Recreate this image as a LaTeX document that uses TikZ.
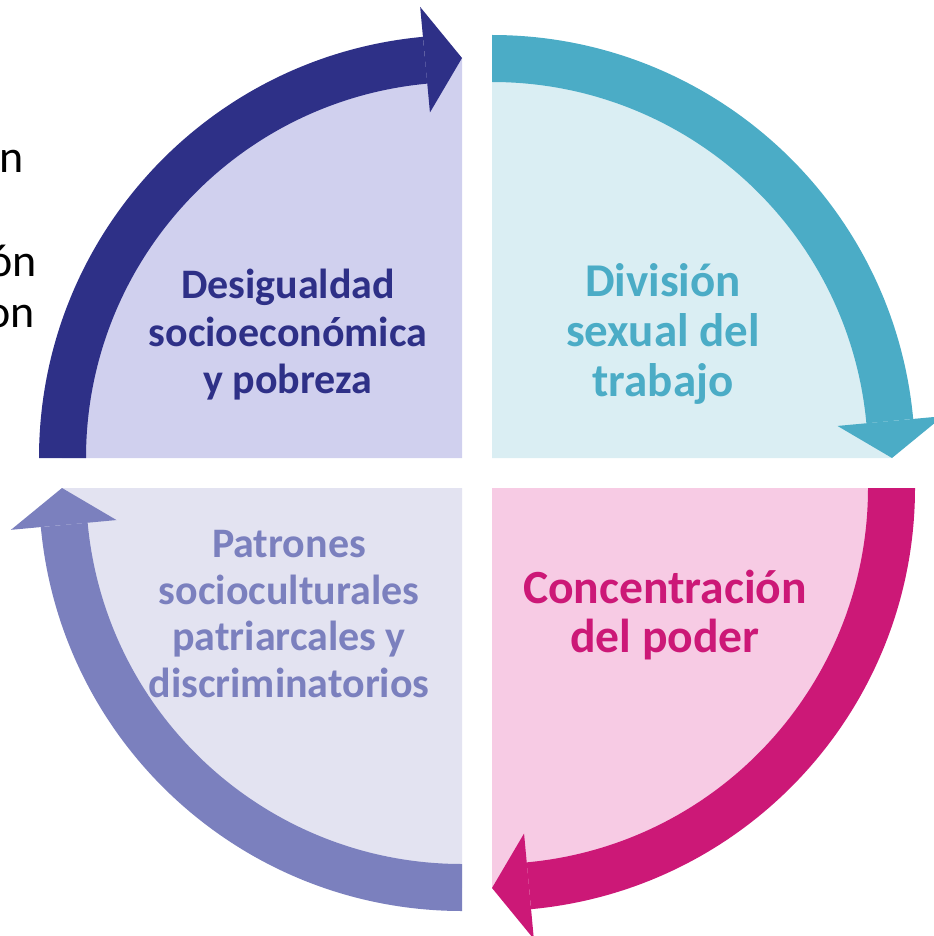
\documentclass[tikz,border=0pt]{standalone}
\usepackage{fontspec}
\setmainfont{Carlito}
\definecolor{navy}{RGB}{46,48,135}
\definecolor{navyfill}{RGB}{208,208,238}
\definecolor{tealc}{RGB}{75,172,198}
\definecolor{tealfill}{RGB}{218,238,243}
\definecolor{magc}{RGB}{204,24,119}
\definecolor{magfill}{RGB}{247,203,228}
\definecolor{lavc}{RGB}{123,128,190}
\definecolor{lavfill}{RGB}{227,227,241}
\newcommand\quadseg[4]{%
  \begin{scope}[shift={#1}, rotate=#2]
    \fill[#3] (0,0) -- (90:400) arc[start angle=90,end angle=180,radius=400] -- cycle;
    \fill[#4] (180:423) arc[start angle=180,end angle=95.3,radius=423]
      -- (95.3:376) arc[start angle=95.3,end angle=180,radius=376] -- cycle;
    \fill[#4] (95.3:347) -- (95.3:453) -- (90:400) -- cycle;
  \end{scope}}
\begin{document}
\begin{tikzpicture}[x=0.5pt,y=0.5pt,
  lbl/.style={anchor=north, align=center, inner sep=0pt},
  frag/.style={anchor=base east, inner sep=0pt, font=\fontsize{23}{28}\selectfont, text=black}]
\useasboundingbox (0,0) rectangle (933,-936);
\quadseg{(462,-458)}{0}{navyfill}{navy}
\quadseg{(492,-458)}{-90}{tealfill}{tealc}
\quadseg{(492,-488)}{180}{magfill}{magc}
\quadseg{(462,-488)}{90}{lavfill}{lavc}
\node[lbl, font=\bfseries\fontsize{21}{23.7}\selectfont, text=navy] (t1) at (288,-269) {Desigualdad\\socioeconómica\\y pobreza};
\node[lbl, font=\bfseries\fontsize{23.5}{25}\selectfont, text=tealc] (t2) at (663,-263) {División\\sexual del\\trabajo};
\node[lbl, font=\bfseries\fontsize{23.8}{24.3}\selectfont, text=magc] (t3) at (665,-570) {Concentración\\del poder};
\node[lbl, font=\bfseries\fontsize{21}{23.3}\selectfont, text=lavc] (t4) at (289,-530) {Patrones\\socioculturales\\patriarcales y\\discriminatorios};
\node[frag] (f1) at (24,-173) {n};
\node[frag] (f2) at (37,-277) {ón};
\node[frag] (f3) at (35,-327) {on};
\end{tikzpicture}
\end{document}
